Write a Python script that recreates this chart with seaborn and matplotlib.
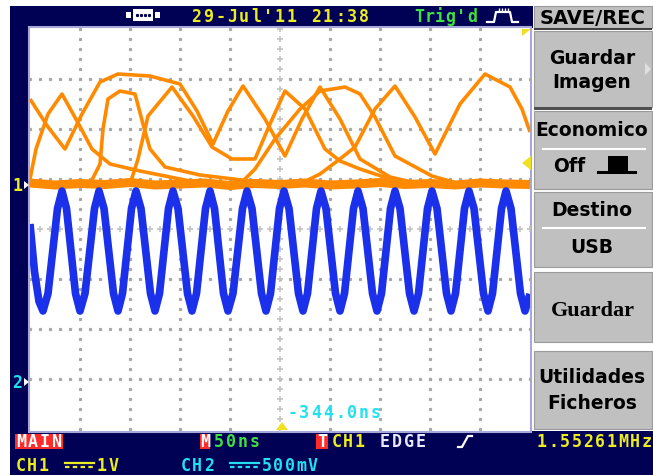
import numpy as np
import pandas as pd
import matplotlib
matplotlib.use("Agg")
import matplotlib.pyplot as plt
import seaborn as sns
from matplotlib.patches import Rectangle, Polygon

# ---- data (screen divisions: x 0..10, y -4..4) ----
# CH2 blue sine: extrema plus shoulder points
blue_x = [0.00, 0.09, 0.18, 0.26,
          0.36, 0.55, 0.64, 0.73, 0.91, 1.00,
          1.10, 1.29, 1.38, 1.48, 1.67, 1.76,
          1.85, 2.03, 2.12, 2.22, 2.41, 2.50,
          2.59, 2.77, 2.86, 2.96, 3.15, 3.24,
          3.33, 3.51, 3.60, 3.69, 3.87, 3.96,
          4.06, 4.25, 4.34, 4.44, 4.63, 4.72,
          4.81, 4.99, 5.08, 5.18, 5.37, 5.46,
          5.55, 5.73, 5.82, 5.92, 6.11, 6.20,
          6.29, 6.47, 6.56, 6.66, 6.85, 6.94,
          7.03, 7.21, 7.30, 7.40, 7.59, 7.68,
          7.77, 7.95, 8.04, 8.14, 8.33, 8.42,
          8.51, 8.69, 8.78, 8.88, 9.07, 9.16,
          9.25, 9.43, 9.52, 9.62, 9.81, 9.90, 10.0]
blue_y = [0.10, -0.85, -1.45, -1.64,
          -1.29, 0.41, 0.76, 0.41, -1.29, -1.64,
          -1.29, 0.41, 0.76, 0.41, -1.29, -1.64,
          -1.29, 0.41, 0.76, 0.41, -1.29, -1.64,
          -1.29, 0.41, 0.76, 0.41, -1.29, -1.64,
          -1.29, 0.41, 0.76, 0.41, -1.29, -1.64,
          -1.29, 0.41, 0.76, 0.41, -1.29, -1.64,
          -1.29, 0.41, 0.76, 0.41, -1.29, -1.64,
          -1.29, 0.41, 0.76, 0.41, -1.29, -1.64,
          -1.29, 0.41, 0.76, 0.41, -1.29, -1.64,
          -1.29, 0.41, 0.76, 0.41, -1.29, -1.64,
          -1.29, 0.41, 0.76, 0.41, -1.29, -1.64,
          -1.29, 0.41, 0.76, 0.41, -1.29, -1.64,
          -1.29, 0.41, 0.76, 0.41, -1.29, -1.64, -1.30]

# CH1 orange: noisy baseline plus several overlaid sweeps
base_x = [0.0, 0.5, 1.0, 1.5, 2.0, 2.5, 3.0, 3.5, 4.0, 4.5, 5.0, 5.5, 6.0, 6.5, 7.0,
          7.5, 8.0, 8.5, 9.0, 9.5, 10.0]
base_y = [0.92, 0.88, 0.91, 0.89, 0.93, 0.88, 0.90, 0.92, 0.87, 0.91, 0.89, 0.92,
          0.88, 0.90, 0.93, 0.89, 0.91, 0.88, 0.92, 0.90, 0.89]

sweep_a_x = [0.00, 0.36, 0.70, 1.04, 1.40, 1.76, 2.40, 3.00, 3.34, 3.66, 3.96, 4.26,
             4.70, 5.10, 5.44, 5.80, 6.20, 6.60, 7.20, 7.80]
sweep_a_y = [2.60, 2.04, 1.60, 2.30, 2.94, 3.10, 3.06, 2.90, 2.36, 1.70, 2.36, 2.86,
             2.20, 1.46, 2.20, 2.84, 2.20, 1.40, 1.04, 0.90]
sweep_b_x = [0.00, 0.12, 0.36, 0.64, 0.94, 1.24, 1.60, 2.20, 2.80, 3.40]
sweep_b_y = [1.00, 1.60, 2.30, 2.70, 2.16, 1.60, 1.30, 1.16, 1.04, 0.92]
sweep_c_x = [1.20, 1.40, 1.46, 1.56, 1.80, 2.10, 2.26, 2.40, 2.70, 3.40, 4.40, 5.00]
sweep_c_y = [0.90, 1.30, 2.00, 2.60, 2.76, 2.70, 2.10, 1.60, 1.24, 1.08, 0.96, 0.90]
sweep_d_x = [2.00, 2.16, 2.36, 2.84, 3.26, 3.64, 4.04, 4.50, 4.80, 5.10, 5.50, 5.90,
             6.20, 6.60, 7.20, 7.80]
sweep_d_y = [0.90, 1.40, 2.26, 2.84, 2.26, 1.64, 1.40, 1.40, 2.10, 2.76, 2.40, 1.60,
             1.36, 1.20, 1.00, 0.90]
sweep_e_x = [5.40, 5.80, 6.20, 6.50, 6.90, 7.30, 7.70, 8.10, 8.60, 9.10, 9.60, 9.84, 10.0]
sweep_e_y = [0.90, 1.10, 1.40, 1.64, 2.40, 2.86, 2.24, 1.50, 2.50, 3.10, 2.84, 2.40, 1.94]
sweep_f_x = [4.20, 4.50, 4.90, 5.40, 5.80, 6.30, 6.60, 6.90, 7.30, 8.04, 8.60]
sweep_f_y = [0.90, 1.20, 1.80, 2.40, 2.76, 2.84, 2.70, 2.24, 1.46, 1.06, 0.90]

menu_items = [("SAVE/REC",), ("Guardar", "Imagen"), ("Economico", "Off"),
              ("Destino", "USB"), ("Guardar",), ("Utilidades", "Ficheros")]

NAVY = "#000055"
YEL = "#ecec20"
CYAN = "#22e0f0"
GRN = "#40e040"
RED = "#ff2a2a"
ORANGE = "#ff8a00"
BLUE = "#1a30ea"
GRAY = "#c0c0c0"
MONO = "DejaVu Sans Mono"

W, H = 653, 477
fig = plt.figure(figsize=(W / 100, H / 100), dpi=100, facecolor="white")

bg = fig.add_axes([0, 0, 1, 1], zorder=0)
bg.set_xlim(0, W)
bg.set_ylim(H, 0)
bg.axis("off")

ov = fig.add_axes([0, 0, 1, 1], zorder=3)
ov.set_xlim(0, W)
ov.set_ylim(H, 0)
ov.axis("off")
ov.patch.set_alpha(0)


def rect(ax, x0, y0, x1, y1, fc, ec="none", lw=0, z=1):
    ax.add_patch(Rectangle((x0, y0), x1 - x0, y1 - y0, fc=fc, ec=ec, lw=lw, zorder=z))


def mono(ax, x, y, s, pitch, color, size=12):
    for i, ch in enumerate(s):
        ax.text(x + pitch * (i + 0.5), y, ch, ha="center", va="center",
                color=color, fontsize=size, family=MONO, weight="bold", zorder=5)


# screen frame
rect(bg, 10, 7, 533, 29, NAVY)
rect(bg, 10, 7, 29, 476, NAVY)
rect(bg, 10, 432, W, 476, NAVY)
rect(bg, 29, 28, 531, 433, "white", ec="#a8a8d8", lw=1.5)

# top bar
mono(bg, 190, 17, "29-Jul'11 21:38", 12, YEL)
mono(bg, 414, 17, "Trig'd", 10.5, GRN)
# connector icon
rect(bg, 126, 13, 131, 19, "white", z=3)
rect(bg, 155, 13, 160, 19, "white", z=3)
rect(bg, 133, 10, 153, 22, "white", z=3)
bg.plot([137, 141, 145, 149], [16, 16, 16, 16], ls="none", marker="s", ms=1.2, color=NAVY, zorder=4)
# pulse icon
bg.plot([487, 494, 496, 510, 512, 518], [23, 23, 13, 13, 23, 23], color="white", lw=1.6, zorder=4)
bg.plot([499, 502, 505, 508], [11, 11, 11, 11], ls="none", marker="|", ms=3, color="white", zorder=4)

# bottom bar, row 1
rect(bg, 15, 435, 63, 450, RED, z=3)
mono(bg, 15, 442, "MAIN", 12, "white")
rect(bg, 200, 435, 210, 450, RED, z=3)
mono(bg, 199, 442, "M", 12, "white")
mono(bg, 213, 442, "50ns", 12, GRN)
rect(bg, 316, 435, 328, 450, RED, z=3)
mono(bg, 316, 442, "T", 12, "white")
mono(bg, 331, 442, "CH1", 11.5, YEL)
mono(bg, 379, 442, "EDGE", 12, "#e8e8ff")
bg.plot([458, 462, 468, 472], [448, 448, 437, 437], color="white", lw=1.6, zorder=4)
mono(bg, 536, 442, "1.55261MHz", 11.6, YEL)

# bottom bar, row 2
def dc_symbol(ax, x0, x1, y, color):
    ax.plot([x0, x1], [y - 2, y - 2], color=color, lw=1.6, zorder=4)
    ax.plot([x0, x1], [y + 2, y + 2], color=color, lw=1.6, ls=(0, (2, 1.5)), zorder=4)


mono(bg, 15, 466, "CH1", 11.5, YEL)
dc_symbol(bg, 65, 94, 466, YEL)
mono(bg, 96, 466, "1V", 12, YEL)
mono(bg, 180, 466, "CH2", 11.5, CYAN)
dc_symbol(bg, 230, 259, 466, CYAN)
mono(bg, 261, 466, "500mV", 11.5, CYAN)

# channel markers
mono(bg, 12, 186, "1", 11, YEL)
bg.add_patch(Polygon([(24, 182), (24, 190), (29, 186)], fc="white", zorder=4))
mono(bg, 12, 383, "2", 11, CYAN)
bg.add_patch(Polygon([(24, 379), (24, 387), (29, 383)], fc="white", zorder=4))

# right menu
panels = [(7, 29), (32, 108), (112, 190), (193, 268), (273, 343), (352, 430)]
for y0, y1 in panels:
    rect(bg, 534, y0, 652, y1, GRAY, ec="#9a9a9a", lw=0.8)
rect(bg, 534, 29, 652, 31, "#404040")
rect(bg, 534, 108, 652, 111, "#505050")
bg.plot([543, 645], [150, 150], color="white", lw=1.5, zorder=3)
bg.plot([543, 645], [229, 229], color="white", lw=1.5, zorder=3)

menu_font = dict(ha="center", va="center", color="black", fontsize=13.5,
                 weight="bold", family="DejaVu Sans", zorder=5)
bg.text(593, 18, menu_items[0][0], **{**menu_font, "fontsize": 14})
bg.text(592, 58, menu_items[1][0], **menu_font)
bg.text(592, 83, menu_items[1][1], **menu_font)
bg.add_patch(Polygon([(645, 64), (645, 76), (651, 70)], fc="#e0e0e0", zorder=4))
bg.text(592, 131, menu_items[2][0], **menu_font)
bg.text(569, 167, menu_items[2][1], **menu_font)
rect(bg, 608, 157, 628, 174, "black", z=4)
rect(bg, 597, 172, 637, 175, "black", z=4)
bg.text(592, 211, menu_items[3][0], **menu_font)
bg.text(592, 248, menu_items[3][1], **menu_font)
bg.text(593, 311, menu_items[4][0], ha="center", va="center", color="black",
        fontsize=16, weight="bold", family="Liberation Serif", zorder=5)
bg.text(592, 378, menu_items[5][0], **menu_font)
bg.text(592, 404, menu_items[5][1], **menu_font)

# ---- trace area ----
ax = fig.add_axes([30 / W, 1 - 432 / H, 500 / W, 403 / H], zorder=1)
ax.patch.set_alpha(0)

# graticule
dots = np.arange(0, 10.01, 0.2)
vdots = np.arange(-4, 4.01, 0.2)
for gx in [1, 2, 3, 4, 6, 7, 8, 9]:
    ax.plot(np.full_like(vdots, gx), vdots, ls="none", marker="s", ms=1.3,
            color="#a8a8a8", zorder=1)
for gy in [-3, -2, -1, 1, 2, 3]:
    ax.plot(dots, np.full_like(dots, gy), ls="none", marker="s", ms=1.3,
            color="#a8a8a8", zorder=1)
ax.plot(dots, np.zeros_like(dots), ls="none", marker="+", ms=5, mew=1.2,
        color="#c4c4c4", zorder=1)
ax.plot(np.full_like(vdots, 5), vdots, ls="none", marker="+", ms=5, mew=1.2,
        color="#c4c4c4", zorder=1)

sweeps = {"a": (sweep_a_x, sweep_a_y), "b": (sweep_b_x, sweep_b_y),
          "c": (sweep_c_x, sweep_c_y), "d": (sweep_d_x, sweep_d_y),
          "e": (sweep_e_x, sweep_e_y), "f": (sweep_f_x, sweep_f_y)}
orange_df = pd.concat([pd.DataFrame({"t": sx, "v": sy, "sweep": k})
                       for k, (sx, sy) in sweeps.items()], ignore_index=True)

sns.lineplot(data=orange_df, x="t", y="v", units="sweep", estimator=None, sort=False,
             color=ORANGE, lw=2.6, ax=ax, zorder=2)
sns.lineplot(x=base_x, y=base_y, estimator=None, sort=False, color=ORANGE,
             lw=6.5, ax=ax, zorder=2)
sns.lineplot(x=blue_x, y=blue_y, estimator=None, sort=False, color=BLUE,
             lw=5.5, ax=ax, zorder=3)
for line in ax.lines:
    line.set_solid_joinstyle("round")
    line.set_solid_capstyle("butt")
ax.set_xlim(0, 10)
ax.set_ylim(-4.04, 4.02)
ax.axis("off")

# overlays on top of the traces
mono(ov, 286, 413, "-344.0ns", 12, CYAN)
ov.add_patch(Polygon([(522, 30), (531, 30), (522, 37)], fc="#f0e020", zorder=5))
ov.add_patch(Polygon([(531, 157), (531, 171), (522, 164)], fc="#f0e020", zorder=5))
ov.add_patch(Polygon([(276, 431), (288, 431), (282, 423)], fc="#f0e020", zorder=5))

fig.savefig("out.png", dpi=100, facecolor="white")
